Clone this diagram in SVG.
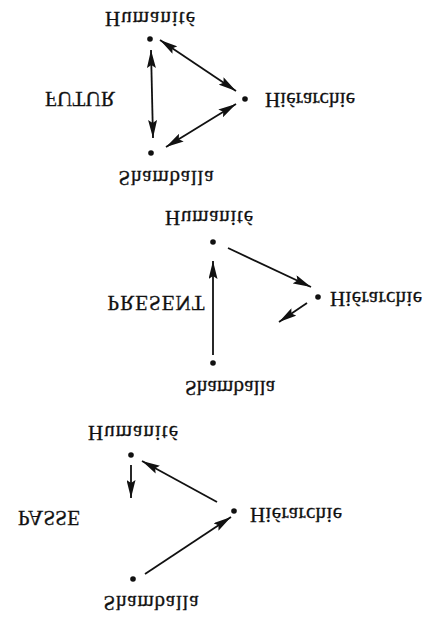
<svg xmlns="http://www.w3.org/2000/svg" width="440" height="620" viewBox="0 0 440 620">
<style>
text{font-family:"Liberation Serif","Times New Roman",serif;font-size:21px;fill:#111;stroke:#111;stroke-width:0.3;text-anchor:middle}
.t{font-size:21px}
.e{stroke:#111;stroke-width:1.8;fill:none}
.d{fill:#111}
</style>
<defs>
<marker id="ah" viewBox="0 0 18 9" refX="18" refY="4.5" markerWidth="18" markerHeight="9" markerUnits="userSpaceOnUse" orient="auto-start-reverse">
<path d="M0,0 L18,4.5 L0,9 L3,4.5 Z" fill="#111"/>
</marker>
</defs>
<rect width="440" height="620" fill="#fff"/>
<g id="connectors">
<line class="e" x1="160" y1="40" x2="236" y2="91" marker-start="url(#ah)" marker-end="url(#ah)"/>
<line class="e" x1="236" y1="104" x2="166" y2="147" marker-start="url(#ah)" marker-end="url(#ah)"/>
<line class="e" x1="151" y1="50" x2="153" y2="138" marker-start="url(#ah)" marker-end="url(#ah)"/>
<line class="e" x1="228" y1="248" x2="311" y2="287" marker-end="url(#ah)"/>
<line class="e" x1="307" y1="303" x2="279" y2="322" marker-end="url(#ah)"/>
<line class="e" x1="213" y1="355" x2="213" y2="261" marker-end="url(#ah)"/>
<line class="e" x1="131" y1="465" x2="131" y2="498" marker-end="url(#ah)"/>
<line class="e" x1="217" y1="502" x2="142" y2="461" marker-end="url(#ah)"/>
<line class="e" x1="145" y1="574" x2="231" y2="517" marker-end="url(#ah)"/>
</g>
<g id="futur">
<g id="f-humanite"><circle class="d" cx="150" cy="39" r="2.8"/><text transform="translate(150,12) scale(1,-1)" textLength="90">Humanité</text></g>
<g id="f-hierarchie"><circle class="d" cx="245" cy="99" r="2.8"/><text transform="translate(310,93) scale(1,-1)" textLength="90">Hiérarchie</text></g>
<g id="f-shamballa"><circle class="d" cx="151" cy="153" r="2.8"/><text transform="translate(166,171) scale(1,-1)" textLength="95">Shamballa</text></g>
<g id="f-label"><text class="t" transform="translate(80,92) scale(1,-1)" textLength="70">FUTUR</text></g>
</g>
<g id="present">
<g id="p-humanite"><circle class="d" cx="213" cy="242" r="2.8"/><text transform="translate(209,211) scale(1,-1)" textLength="88">Humanité</text></g>
<g id="p-hierarchie"><circle class="d" cx="318" cy="297" r="2.8"/><text transform="translate(376,292) scale(1,-1)" textLength="92">Hiérarchie</text></g>
<g id="p-shamballa"><circle class="d" cx="213" cy="363" r="2.8"/><text transform="translate(230,381) scale(1,-1)" textLength="90">Shamballa</text></g>
<g id="p-label"><text class="t" transform="translate(156,296) scale(1,-1)" textLength="97">PRESENT</text></g>
</g>
<g id="passe">
<g id="pa-humanite"><circle class="d" cx="131" cy="455" r="2.8"/><text transform="translate(133,426) scale(1,-1)" textLength="90">Humanité</text></g>
<g id="pa-hierarchie"><circle class="d" cx="234" cy="511" r="2.8"/><text transform="translate(296,508) scale(1,-1)" textLength="92">Hiérarchie</text></g>
<g id="pa-shamballa"><circle class="d" cx="133" cy="579" r="2.8"/><text transform="translate(151,596) scale(1,-1)" textLength="95">Shamballa</text></g>
<g id="pa-label"><text class="t" transform="translate(49,511) scale(1,-1)" textLength="62">PASSE</text></g>
</g>
</svg>
